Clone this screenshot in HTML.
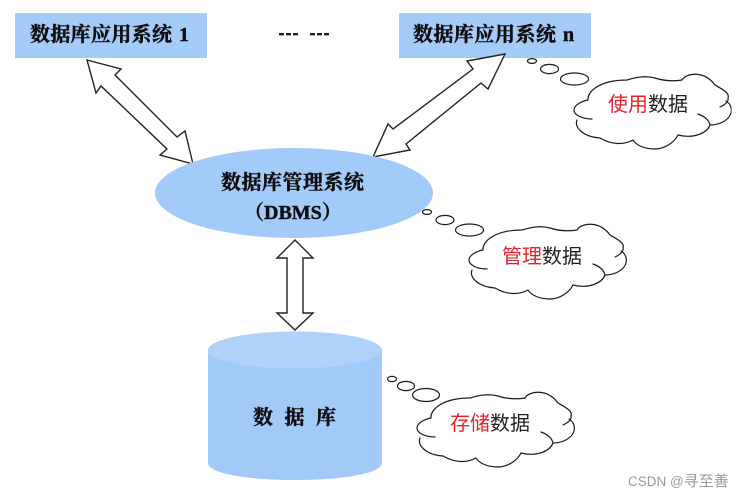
<!DOCTYPE html>
<html>
<head>
<meta charset="utf-8">
<style>
html,body{margin:0;padding:0;background:#fff;width:743px;height:499px;overflow:hidden}
svg{display:block}
.t{font-family:"Liberation Serif","Noto Serif CJK SC",serif;font-weight:700;font-size:20px;fill:#111;stroke:#111;stroke-width:.45}
.c{font-family:"Liberation Sans","WenQuanYi Zen Hei","Noto Sans CJK SC",sans-serif;font-size:20px;fill:#222}
.r{fill:#e8202a}
.a{fill:#fff;stroke:#222;stroke-width:1.4;stroke-linejoin:miter}
.cl{fill:none;stroke:#1a1a1a;stroke-width:1.2;stroke-linecap:round}
.b{fill:#fff;stroke:#1a1a1a;stroke-width:1.2}
</style>
</head>
<body>
<svg width="743" height="499" viewBox="0 0 743 499" xmlns="http://www.w3.org/2000/svg">
<defs>
<filter id="s" x="0" y="0" width="100%" height="100%"><feGaussianBlur stdDeviation="0.35"/></filter>
<g id="cloud">
<path class="cl" d="M18,46 C8,46 0,42 0,37 C0,32 8,28 14,27 C13,19 25,7 53,7 C60,5 70,2 81,5 C87,7 95,9 108,7 C112,0 130,-3 141,12 C148,16 156,20 154,25 C155,28 151,32 146,34 M152,28 C157,31 158,36 157,40 C155,47 146,52 136,52 M124,41 C130,43 135,47 136,52 C133,60 120,66 104,62 C100,70 90,76 81,76 C70,76 62,72 59,67 C50,72 38,72 26,65 C10,64 0,55 3,47"/>
</g>
</defs>
<g filter="url(#s)">
<rect x="15" y="13" width="192" height="45" fill="#a5cbf8"/>
<rect x="399" y="13" width="192" height="45" fill="#a5cbf8"/>
<text class="t" x="30" y="41" textLength="142" lengthAdjust="spacing">数据库应用系统</text>
<text class="t" x="179" y="41">1</text>
<text class="t" x="413" y="41" textLength="143" lengthAdjust="spacing">数据库应用系统</text>
<text class="t" x="563" y="41">n</text>
<g fill="#222">
<rect x="279" y="33" width="5" height="2.4"/><rect x="286" y="33" width="5" height="2.4"/><rect x="293" y="33" width="5" height="2.4"/>
<rect x="310" y="33" width="5" height="2.4"/><rect x="317" y="33" width="5" height="2.4"/><rect x="324" y="33" width="5" height="2.4"/>
</g>

<polygon class="a" points="87,60 121,69 115,75 177,137 185,131 193,164 160,155 167,149 101,86 96,93"/>
<polygon class="a" points="505,54 467,61 473,69 393,129 388,124 373,157 410,150 406,144 481,83 488,89"/>

<ellipse cx="294" cy="193" rx="139" ry="45" fill="#a3cbf9"/>
<text class="t" x="221" y="189" textLength="143" lengthAdjust="spacing">数据库管理系统</text>
<text class="t" x="244" y="219" font-size="20">（DBMS）</text>

<polygon class="a" points="295,240 313,258 303,258 303,313 313,313 295,330 277,313 287,313 287,258 277,258"/>

<path d="M208,350 V463 C208,473 245,480 295,480 C345,480 382,473 382,463 V350 Z" fill="#a1caf9"/>
<ellipse cx="295" cy="350" rx="87" ry="18.5" fill="#b0d1f8"/>
<text class="t" x="253" y="424" font-size="21" textLength="83" lengthAdjust="spacing">数 据 库</text>

<ellipse class="b" cx="532" cy="61" rx="4.5" ry="2.4"/>
<ellipse class="b" cx="549.5" cy="69" rx="9" ry="4.6"/>
<ellipse class="b" cx="574.5" cy="79" rx="14" ry="6"/>
<use href="#cloud" x="574" y="73"/>
<text class="c" x="608" y="111"><tspan class="r">使用</tspan>数据</text>

<ellipse class="b" cx="427" cy="212" rx="4.5" ry="2.4"/>
<ellipse class="b" cx="445" cy="220" rx="9" ry="4.6"/>
<ellipse class="b" cx="469.5" cy="230" rx="14" ry="6"/>
<use href="#cloud" x="469" y="223"/>
<text class="c" x="502" y="263"><tspan class="r">管理</tspan>数据</text>

<ellipse class="b" cx="392" cy="379" rx="4.5" ry="2.6"/>
<ellipse class="b" cx="406" cy="386" rx="8.5" ry="4.6"/>
<ellipse class="b" cx="426" cy="395" rx="13.5" ry="6.5"/>
<use href="#cloud" x="417" y="391"/>
<text class="c" x="450" y="430"><tspan class="r">存储</tspan>数据</text>

<text x="628" y="486" font-family="'Liberation Sans','Noto Sans CJK SC',sans-serif" font-size="13.5" fill="#9a9a9a">CSDN @<tspan font-size="15">寻至善</tspan></text>
</g>
</svg>
</body>
</html>
